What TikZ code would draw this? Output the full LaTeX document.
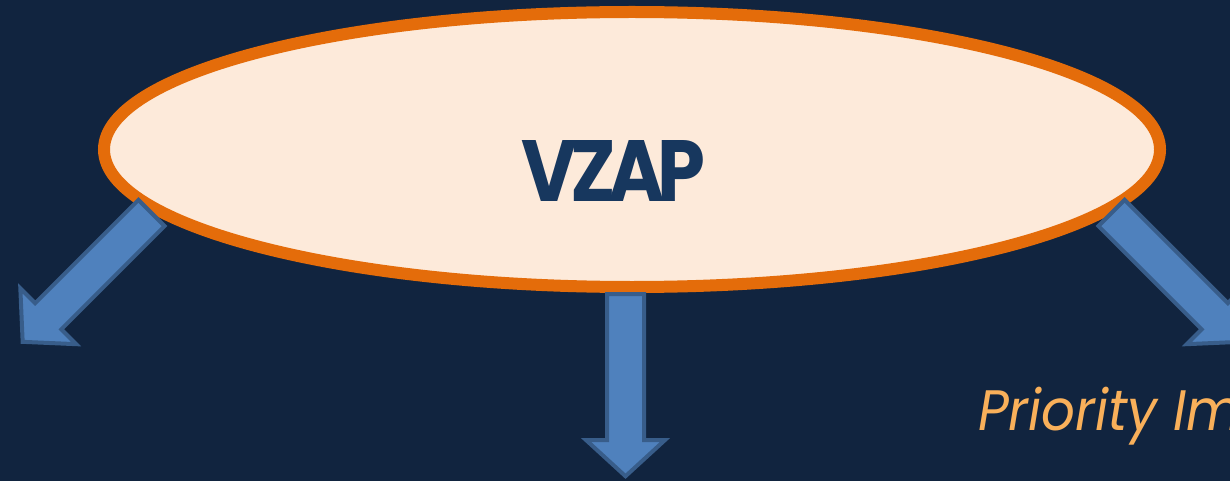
\documentclass[tikz,border=0pt]{standalone}
\usepackage{fontspec}
\newfontfamily\popfont{Poppins}
\newfontfamily\poptight[LetterSpace=-10]{Poppins}
\usetikzlibrary{shapes.geometric}
\definecolor{bgcol}{HTML}{11243F}
\definecolor{ringcol}{HTML}{E46C0A}
\definecolor{peach}{HTML}{FDEADA}
\definecolor{titlecol}{HTML}{17375E}
\definecolor{arrowfill}{HTML}{4F81BD}
\definecolor{arrowline}{HTML}{385D8A}
\definecolor{labelcol}{HTML}{F9B05A}
\tikzset{
  ringstyle/.style={ellipse, draw=ringcol, fill=peach, line width=12pt, inner sep=0pt,
    minimum width=1056pt, minimum height=275pt},
  arrowstyle/.style={fill=arrowfill, draw=arrowline, line width=4pt, line join=miter},
  blockarrow/.pic={
    \draw[arrowstyle] (-18.5,0) -- (-18.5,-146) -- (-39.5,-146) -- (0,-182.2)
      -- (39.5,-146) -- (18.5,-146) -- (18.5,0) -- cycle;
  }
}
\begin{document}
\begin{tikzpicture}[x=1pt,y=1pt]
\useasboundingbox (0,0) rectangle (1230,-481);
\fill[bgcol] (0,0) rectangle (1230,-481);
\clip (0,0) rectangle (1230,-481);
\node[ringstyle] (vzap) at (632,-149.5) {};
\node[inner sep=0pt, text=titlecol] (vzaptext) at (613.5,-170.5)
  {\resizebox{183pt}{61pt}{\poptight\bfseries VZAP}};
\coordinate (leftstart) at (151.5,-213);
\coordinate (midstart) at (625.5,-294);
\coordinate (rightstart) at (1111.5,-213);
\path (leftstart) pic[rotate=-45] {blockarrow};
\path (midstart) pic {blockarrow};
\path (rightstart) pic[rotate=45] {blockarrow};
\node[anchor=base west, inner sep=0pt, text=labelcol]
  (priority) at (978,-430) {\scalebox{0.93}[1]{\popfont\itshape\fontsize{57}{60}\selectfont Priority Imp}};
\end{tikzpicture}
\end{document}
